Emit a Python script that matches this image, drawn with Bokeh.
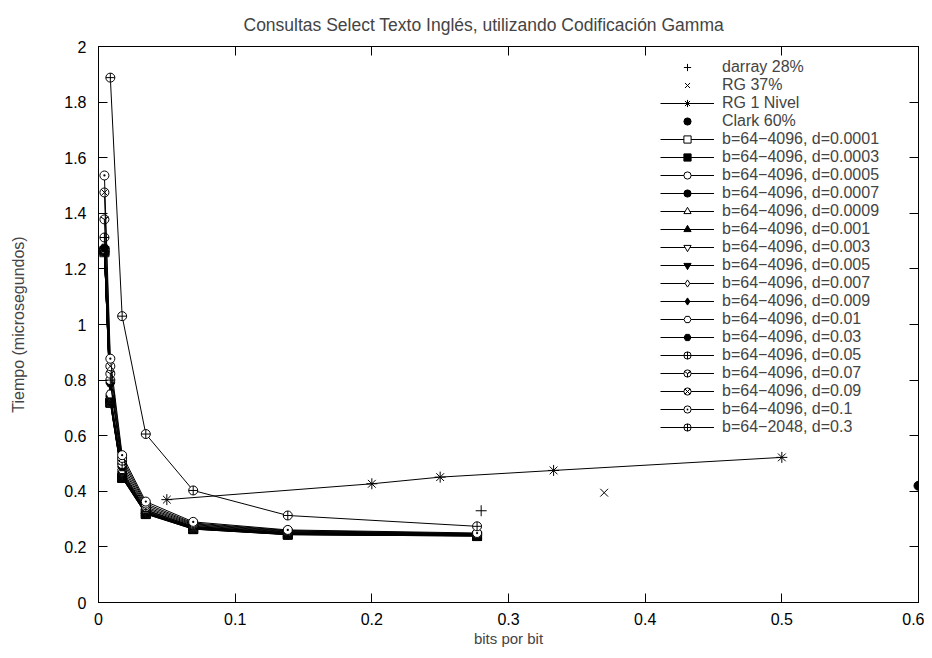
from bokeh.plotting import figure
from bokeh.models import Legend, LegendItem, LinearAxis, FixedTicker, Range1d
from bokeh.embed import file_html
from bokeh.resources import INLINE

# ---------------- data ----------------
x_ticks = [0, 0.1, 0.2, 0.3, 0.4, 0.5, 0.6]
x_tick_labels = ["0", "0.1", "0.2", "0.3", "0.4", "0.5", "0.6"]
y_ticks = [0, 0.2, 0.4, 0.6, 0.8, 1.0, 1.2, 1.4, 1.6, 1.8, 2.0]
y_tick_labels = ["0", "0.2", "0.4", "0.6", "0.8", "1", "1.2", "1.4", "1.6", "1.8", "2"]

darray_x = [0.28]
darray_y = [0.33]
rg37_x = [0.37]
rg37_y = [0.395]
rg1_x = [0.05, 0.2, 0.25, 0.333, 0.5]
rg1_y = [0.37, 0.427, 0.451, 0.475, 0.522]
clark_x = [0.6]
clark_y = [0.42]

x_b4096 = [0.00433, 0.00866, 0.0173, 0.0346, 0.0693, 0.1385, 0.277]
x_b2048 = [0.00866, 0.0173, 0.0346, 0.0693, 0.1385, 0.277]

t_d00001 = [1.260, 0.718, 0.448, 0.318, 0.264, 0.244, 0.239]
t_d00003 = [1.265, 0.720, 0.449, 0.319, 0.264, 0.244, 0.239]
t_d00005 = [1.262, 0.722, 0.451, 0.320, 0.265, 0.245, 0.240]
t_d00007 = [1.263, 0.724, 0.452, 0.321, 0.266, 0.245, 0.240]
t_d00009 = [1.262, 0.726, 0.454, 0.322, 0.266, 0.246, 0.241]
t_d0001 = [1.264, 0.728, 0.456, 0.323, 0.267, 0.246, 0.241]
t_d0003 = [1.265, 0.732, 0.460, 0.325, 0.268, 0.247, 0.242]
t_d0005 = [1.266, 0.736, 0.464, 0.327, 0.270, 0.248, 0.242]
t_d0007 = [1.268, 0.740, 0.468, 0.329, 0.271, 0.249, 0.243]
t_d0009 = [1.270, 0.745, 0.472, 0.332, 0.273, 0.250, 0.244]
t_d001 = [1.270, 0.750, 0.478, 0.334, 0.274, 0.251, 0.244]
t_d003 = [1.275, 0.790, 0.488, 0.339, 0.277, 0.253, 0.245]
t_d005 = [1.313, 0.800, 0.498, 0.344, 0.280, 0.255, 0.246]
t_d007 = [1.378, 0.823, 0.510, 0.350, 0.283, 0.257, 0.247]
t_d009 = [1.475, 0.850, 0.520, 0.356, 0.286, 0.259, 0.248]
t_d01 = [1.536, 0.877, 0.530, 0.363, 0.290, 0.261, 0.250]
t_d03 = [1.888, 1.030, 0.606, 0.403, 0.313, 0.274]

series_labels = [
    "b=64\u22124096, d=0.0001", "b=64\u22124096, d=0.0003", "b=64\u22124096, d=0.0005",
    "b=64\u22124096, d=0.0007", "b=64\u22124096, d=0.0009", "b=64\u22124096, d=0.001",
    "b=64\u22124096, d=0.003", "b=64\u22124096, d=0.005", "b=64\u22124096, d=0.007",
    "b=64\u22124096, d=0.009", "b=64\u22124096, d=0.01", "b=64\u22124096, d=0.03",
    "b=64\u22124096, d=0.05", "b=64\u22124096, d=0.07", "b=64\u22124096, d=0.09",
    "b=64\u22124096, d=0.1", "b=64\u22122048, d=0.3",
]
series_y = [t_d00001, t_d00003, t_d00005, t_d00007, t_d00009, t_d0001, t_d0003,
            t_d0005, t_d0007, t_d0009, t_d001, t_d003, t_d005, t_d007, t_d009,
            t_d01, t_d03]
series_x = [x_b4096] * 16 + [x_b2048]

# styles
series_markers = ["square", "square", "circle", "circle", "triangle", "triangle",
                  "inverted_triangle", "inverted_triangle", "diamond", "diamond",
                  "hex", "hex", "circle_cross", "circle_y", "circle_x", "circle_dot",
                  "circle_cross"]
series_fill = ["white", "black", "white", "black", "white", "black", "white", "black",
               "white", "black", "white", "black", "white", "white", "white", "white",
               "white"]

FONT = "Liberation Sans"

p = figure(width=924, height=650, output_backend="svg", toolbar_location=None,
           x_range=Range1d(0, 0.6), y_range=Range1d(0, 2),
           min_border_left=98, min_border_right=6, min_border_top=46,
           min_border_bottom=48)
p.background_fill_color = "white"
p.border_fill_color = "white"
p.outline_line_color = "black"
p.outline_line_width = 1
p.grid.visible = False

p.title.text = "Consultas Select Texto Ingl\u00e9s, utilizando Codificaci\u00f3n Gamma"
p.title.align = "left"
p.title.offset = 145
p.title.text_font = FONT
p.title.text_font_size = "17.5px"
p.title.text_font_style = "normal"
p.title.vertical_align = "top"
p.title.standoff = 20

def style_axis(ax, ticks, labels, show):
    ax.ticker = FixedTicker(ticks=ticks)
    ax.major_label_overrides = {t: l for t, l in zip(ticks, labels)}
    ax.minor_tick_line_color = None
    ax.major_tick_in = 9
    ax.major_tick_out = 0
    ax.major_tick_line_color = "black"
    ax.axis_line_color = "black"
    ax.major_label_text_font = FONT
    ax.major_label_text_font_size = "16px" if show else "0px"
    ax.major_label_text_color = "black"
    ax.axis_label_text_font = FONT
    ax.axis_label_text_font_size = "16px"
    ax.axis_label_text_font_style = "normal"
    if not show:
        ax.major_label_standoff = 0

p.xaxis.axis_label = "bits por bit"
p.yaxis.axis_label = "Tiempo (microsegundos)"
style_axis(p.xaxis[0], x_ticks, x_tick_labels, True)
style_axis(p.yaxis[0], y_ticks, y_tick_labels, True)
p.xaxis.major_label_standoff = 10
p.xaxis.axis_label_standoff = 2
p.xaxis.axis_label_text_font_size = "15px"
p.yaxis.major_label_standoff = 12
p.yaxis.axis_label_standoff = 34

top_ax = LinearAxis()
style_axis(top_ax, x_ticks, x_tick_labels, False)
p.add_layout(top_ax, "above")
right_ax = LinearAxis()
style_axis(right_ax, y_ticks, y_tick_labels, False)
p.add_layout(right_ax, "right")

items = []
r = p.scatter(darray_x, darray_y, marker="cross", size=11, line_color="black", line_width=1)
items.append(LegendItem(label="darray 28%", renderers=[r]))
r = p.scatter(rg37_x, rg37_y, marker="x", size=11, line_color="black", line_width=1)
items.append(LegendItem(label="RG 37%", renderers=[r]))
l = p.line(rg1_x, rg1_y, line_color="black", line_width=1)
r = p.scatter(rg1_x, rg1_y, marker="asterisk", size=11, line_color="black", line_width=1)
items.append(LegendItem(label="RG 1 Nivel", renderers=[l, r]))
r = p.scatter(clark_x, clark_y, marker="circle", size=9, line_color="black",
              fill_color="black")
items.append(LegendItem(label="Clark 60%", renderers=[r]))

for sx, sy, lab, mk, fc in zip(series_x, series_y, series_labels, series_markers, series_fill):
    l = p.line(sx, sy, line_color="black", line_width=1)
    r = p.scatter(sx, sy, marker=mk, size=9, line_color="black", fill_color=fc,
                  line_width=1)
    items.append(LegendItem(label=lab, renderers=[l, r]))

legend = Legend(items=items, location=(562, 166), padding=0, spacing=0, margin=0,
                glyph_width=54, glyph_height=18, label_height=18,
                label_standoff=8,
                label_text_font=FONT, label_text_font_size="16px",
                background_fill_alpha=0, border_line_alpha=0)
p.add_layout(legend)

open("out.html", "w").write(file_html(p, INLINE))
